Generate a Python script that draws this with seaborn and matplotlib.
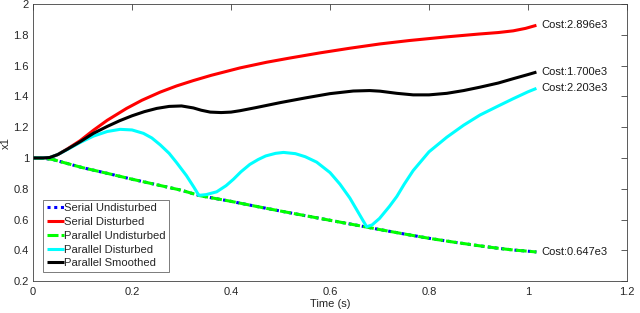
import matplotlib
matplotlib.use("Agg")
import matplotlib.pyplot as plt
import seaborn as sns
import pandas as pd

sns.set_theme(style="white")
plt.rcParams['font.family'] = ['Liberation Sans', 'DejaVu Sans']

# ---- data ----
t_green = [0.0, 0.02, 0.04, 0.06, 0.1, 0.15, 0.2, 0.25, 0.3, 0.337, 0.4, 0.45, 0.5, 0.55, 0.6, 0.674,
           0.7, 0.75, 0.8, 0.85, 0.9, 0.94, 0.97, 1.0, 1.017]
y_green = [1.0, 0.998, 0.99, 0.972, 0.937, 0.9, 0.862, 0.826, 0.79, 0.755, 0.718, 0.686, 0.655, 0.625,
           0.595, 0.551, 0.535, 0.506, 0.478, 0.453, 0.43, 0.413, 0.402, 0.394, 0.389]

t_red = [0.0, 0.02, 0.034, 0.05, 0.07, 0.095, 0.122, 0.15, 0.189, 0.22, 0.257, 0.29, 0.324, 0.36, 0.418,
         0.472, 0.52, 0.58, 0.64, 0.701, 0.76, 0.836, 0.9, 0.94, 0.97, 0.995, 1.017]
y_red = [1.0, 1.0, 1.003, 1.022, 1.06, 1.112, 1.18, 1.245, 1.322, 1.375, 1.428, 1.468, 1.503, 1.537, 1.585,
         1.622, 1.65, 1.683, 1.713, 1.741, 1.763, 1.787, 1.805, 1.815, 1.826, 1.842, 1.862]

t_black = [0.0, 0.02, 0.034, 0.05, 0.07, 0.095, 0.122, 0.15, 0.175, 0.2, 0.225, 0.25, 0.275, 0.3, 0.324,
           0.34, 0.358, 0.38, 0.4, 0.418, 0.45, 0.5, 0.55, 0.6, 0.647, 0.68, 0.701, 0.735, 0.768, 0.8,
           0.836, 0.87, 0.903, 0.94, 0.97, 1.0, 1.017]
y_black = [1.0, 1.0, 1.003, 1.022, 1.058, 1.105, 1.16, 1.205, 1.242, 1.274, 1.301, 1.322, 1.335, 1.338, 1.325,
           1.31, 1.298, 1.295, 1.298, 1.307, 1.327, 1.36, 1.39, 1.418, 1.435, 1.438, 1.434, 1.42, 1.41, 1.41,
           1.42, 1.438, 1.46, 1.487, 1.515, 1.542, 1.558]

t_cyan = [0.0, 0.02, 0.034, 0.05, 0.07, 0.095, 0.122, 0.15, 0.176, 0.2, 0.223, 0.24, 0.257, 0.275, 0.29,
          0.31, 0.325, 0.335, 0.35, 0.371, 0.39, 0.405, 0.42, 0.438, 0.455, 0.47, 0.49, 0.506, 0.53, 0.55,
          0.573, 0.6, 0.62, 0.64, 0.66, 0.674, 0.685, 0.70, 0.72, 0.735, 0.75, 0.768, 0.8, 0.836, 0.87,
          0.903, 0.94, 0.97, 1.0, 1.017]
y_cyan = [1.0, 1.0, 1.003, 1.022, 1.056, 1.1, 1.142, 1.172, 1.186, 1.182, 1.16, 1.13, 1.085, 1.03, 0.97,
          0.885, 0.81, 0.757, 0.762, 0.78, 0.82, 0.862, 0.91, 0.958, 0.99, 1.013, 1.03, 1.036, 1.028, 1.008,
          0.973, 0.905, 0.83, 0.74, 0.63, 0.553, 0.565, 0.607, 0.685, 0.75, 0.83, 0.918, 1.04, 1.135, 1.213,
          1.279, 1.338, 1.385, 1.43, 1.452]

series_names = ["Serial Undisturbed", "Serial Disturbed", "Parallel Undisturbed",
                "Parallel Disturbed", "Parallel Smoothed"]
cost_labels = ["Cost:2.896e3", "Cost:1.700e3", "Cost:2.203e3", "Cost:0.647e3"]

# ---- figure ----
fig = plt.figure(figsize=(6.4, 3.13), dpi=100)
ax = fig.add_axes([0.0516, 0.102, 0.9281, 0.885])

def df(t, y):
    return pd.DataFrame({"t": t, "y": y})

LW = 2.2
kw = dict(x="t", y="y", ax=ax, estimator=None, sort=False)
sns.lineplot(data=df(t_green, y_green), color=(0, 0, 1), lw=LW, ls=(0, (1, 1.2)),
             label=series_names[0], **kw)
sns.lineplot(data=df(t_red, y_red), color=(1, 0, 0), lw=LW, label=series_names[1], **kw)
sns.lineplot(data=df(t_green, y_green), color=(0, 1, 0), lw=LW, ls=(0, (3.6, 1.0)),
             label=series_names[2], **kw)
sns.lineplot(data=df(t_cyan, y_cyan), color=(0, 1, 1), lw=LW, label=series_names[3], **kw)
sns.lineplot(data=df(t_black, y_black), color=(0, 0, 0), lw=LW, label=series_names[4], **kw)
for ln in ax.get_lines():
    ln.set_solid_joinstyle("round")
    ln.set_solid_capstyle("butt")

# cost annotations
ends = [(t_red[-1], y_red[-1]), (t_black[-1], y_black[-1]),
        (t_cyan[-1], y_cyan[-1]), (t_green[-1], y_green[-1])]
for (tx, ty), lab in zip(ends, cost_labels):
    ax.text(tx + 0.011, ty, lab, fontsize=8, va="center", ha="left", color="#1a1a1a")

ax.set_xlim(0, 1.2)
ax.set_ylim(0.2, 2.0)
ax.set_xticks([0, 0.2, 0.4, 0.6, 0.8, 1.0, 1.2])
ax.set_xticklabels(["0", "0.2", "0.4", "0.6", "0.8", "1", "1.2"])
ax.set_yticks([0.2, 0.4, 0.6, 0.8, 1.0, 1.2, 1.4, 1.6, 1.8, 2.0])
ax.set_yticklabels(["0.2", "0.4", "0.6", "0.8", "1", "1.2", "1.4", "1.6", "1.8", "2"])
ax.tick_params(direction="in", length=4, width=0.6, colors="#404040", labelsize=8,
               top=True, right=True, labelcolor="#262626")
ax.tick_params(axis="x", pad=4)
ax.tick_params(axis="y", pad=3)
for s in ax.spines.values():
    s.set_color("#404040")
    s.set_linewidth(0.6)
ax.set_xlabel("Time (s)", fontsize=8, color="#262626", labelpad=2)
ax.set_ylabel("x1", fontsize=8, color="#262626", labelpad=2)

leg = ax.legend(loc="lower left", bbox_to_anchor=(0.0173, 0.0336), fontsize=8.1,
                handlelength=1.5, handletextpad=0.05, borderpad=0.3, labelspacing=0.34,
                frameon=True, fancybox=False, borderaxespad=0.0)
leg.get_frame().set_edgecolor("#404040")
leg.get_frame().set_linewidth(0.6)
for h in leg.get_lines():
    h.set_linewidth(2.2)

fig.savefig("out.png", dpi=100)
